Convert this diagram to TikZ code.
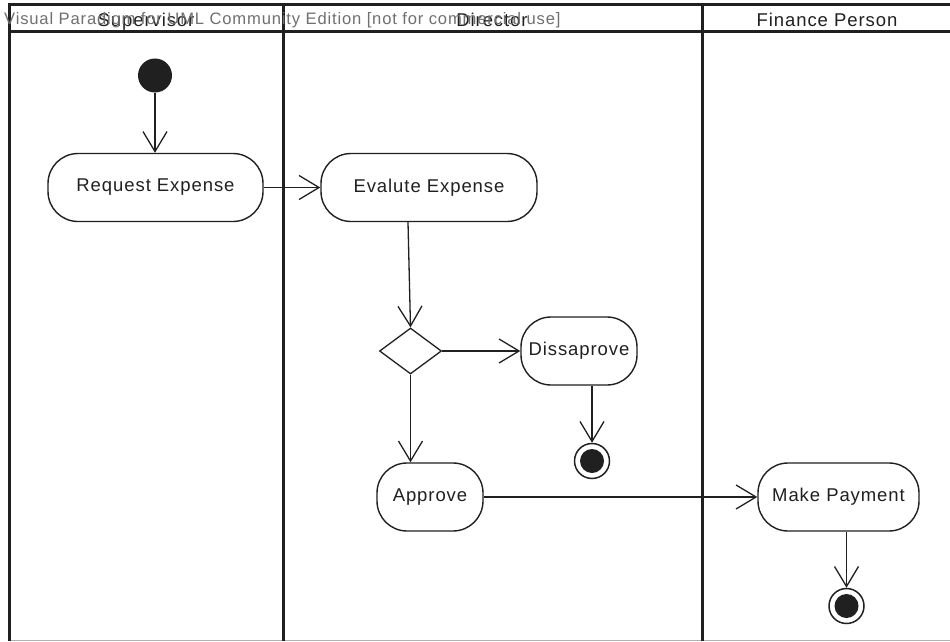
\documentclass[tikz,border=0pt]{standalone}
\usepackage{fontspec}
\setmainfont{Liberation Sans}
\newfontfamily\labelfont[LetterSpace=5]{Liberation Sans}
\usetikzlibrary{arrows.meta,shapes.geometric}
\definecolor{ink}{HTML}{202020}
\definecolor{markgray}{HTML}{707070}
\begin{document}
\begin{tikzpicture}[x=1pt,y=-1pt,
  lane/.style={line width=3pt, draw=ink, line cap=rect},
  action/.style={draw=ink, line width=1.4pt, rounded corners=30pt, inner sep=0pt,
    minimum height=68pt, font=\labelfont\fontsize{18.5}{20}\selectfont, text=ink},
  lanetitle/.style={anchor=base, font=\labelfont\fontsize{18.5}{20}\selectfont, text=ink},
  startdot/.style={circle, fill=ink, minimum size=34pt, inner sep=0pt},
  enddot/.style={circle, draw=ink, line width=1.5pt, minimum size=35pt, inner sep=0pt},
  choice/.style={diamond, draw=ink, line width=1.3pt, minimum width=62pt, minimum height=46pt, inner sep=0pt},
  flow/.style={draw=ink, line width=1.3pt, -{Straight Barb[length=20pt,width=24pt,line width=1.3pt]}}]
\useasboundingbox (0,0) rectangle (950,642);
\fill[white] (0,0) rectangle (950,642);

% swimlane frame
\draw[draw=gray!60, line width=1.5pt] (9,640.5) -- (950,640.5);
\draw[lane] (9,5) -- (950,5);
\draw[lane] (9,32) -- (950,32);
\draw[lane] (9,5) -- (9,639);
\draw[lane] (283,5) -- (283,639);
\draw[lane] (702,5) -- (702,639);

\node[lanetitle] (t1) at (146,27) {Supervisor};
\node[lanetitle] (t2) at (492,27) {Director};
\node[lanetitle] (t3) at (827,27) {Finance Person};

% activities
\node[startdot] (start) at (155,75.5) {};
\node[action, minimum width=215pt] (req) at (155.5,187.5) {Request Expense};
\node[action, minimum width=216pt] (eval) at (429,187.5) {Evalute Expense};
\node[choice] (dec) at (410.5,351) {};
\node[action, minimum width=116pt] (dis) at (579,351) {Dissaprove};
\node[enddot] (end1) at (592,461) {};
\fill[ink] (end1.center) circle (12pt);
\node[action, minimum width=106pt] (app) at (430,497) {Approve};
\node[action, minimum width=161pt] (pay) at (838.5,497) {Make Payment};
\node[enddot] (end2) at (846.5,606) {};
\fill[ink] (end2.center) circle (12pt);

% control flows
\draw[flow] (start) -- (start |- req.north);
\draw[flow] (req) -- (eval);
\draw[flow] ([xshift=-21pt]eval.south) -- (dec.north);
\draw[flow] (dec) -- (dis);
\draw[flow] (dec) -- (app.north -| dec);
\draw[flow] ([xshift=13pt]dis.south) -- (end1);
\draw[flow] (app) -- (pay);
\draw[flow] ([xshift=8pt]pay.south) -- (end2);

% tool watermark
\node[anchor=base west, inner sep=0pt, text=markgray, font=\labelfont\fontsize{16.6}{18}\selectfont] (mark) at (4,24.5)
  {Visual Paradigm for UML Community Edition [not for commercial use]};
\end{tikzpicture}
\end{document}
